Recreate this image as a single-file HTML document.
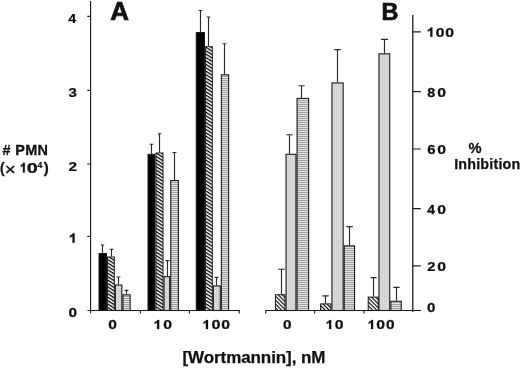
<!DOCTYPE html>
<html><head><meta charset="utf-8"><title>Figure</title>
<style>
html,body{margin:0;padding:0;background:#fff;}
body{width:520px;height:368px;overflow:hidden;font-family:"Liberation Sans",sans-serif;}
svg{display:block;will-change:transform;}
text{font-family:"Liberation Sans",sans-serif;font-weight:bold;fill:#111;stroke:#111;stroke-width:0.25px;}
</style></head><body>
<svg width="520" height="368" viewBox="0 0 520 368">
<defs>
<pattern id="hat" width="2.9" height="2.9" patternUnits="userSpaceOnUse" patternTransform="rotate(32)">
<rect width="2.9" height="2.9" fill="#fff"/><rect width="2.9" height="1.3" fill="#000"/>
</pattern>
<pattern id="hatB" width="2.8" height="2.8" patternUnits="userSpaceOnUse" patternTransform="rotate(45)">
<rect width="2.8" height="2.8" fill="#fff"/><rect width="2.8" height="1.15" fill="#000"/>
</pattern>
<pattern id="str" width="2" height="2" patternUnits="userSpaceOnUse">
<rect width="2" height="2" fill="#e2e2e2"/><rect width="2" height="1" fill="#a0a0a0"/>
</pattern>
<pattern id="dots" width="2" height="2" patternUnits="userSpaceOnUse">
<rect width="2" height="2" fill="#dadada"/><rect width="1" height="1" fill="#c8c8c8"/>
</pattern>
</defs>
<rect width="520" height="368" fill="#fff"/>

<g stroke="#1c1c1c" stroke-width="1.15" fill="none">
<path d="M90.6 1V313.2"/>
<path d="M87.5 310.5H239.7"/>
<path d="M87.3 16.3H90.6M87.3 90.4H90.6M87.3 164H90.6M87.3 236.4H90.6"/>
<path d="M140.4 310.5V313.5M189.4 310.5V313.5M239.2 310.5V313.5"/>
<path d="M265.5 310.5H421"/>
<path d="M265.7 310.5V313.5M314.7 310.5V313.5M363.9 310.5V313.5"/>
<path d="M412.8 15V312" stroke-width="1.3"/>
<path d="M413 31.8H420.8M413 91.6H420.8M413 149H420.8M413 208.6H420.8M413 265.8H420.8"/>
</g>

<path d="M102.50 253.00V245.00M100.75 245.00H104.25" stroke="#2a2a2a" stroke-width="1.15" fill="none"/><rect x="99.00" y="253.50" width="7.50" height="57.00" fill="#000" stroke="#1a1a1a" stroke-width="1.0"/>
<path d="M111.50 256.50V249.30M109.75 249.30H113.25" stroke="#2a2a2a" stroke-width="1.15" fill="none"/><rect x="107.45" y="256.95" width="6.90" height="53.55" fill="url(#hat)" stroke="#1a1a1a" stroke-width="0.9"/>
<path d="M118.50 284.50V277.00M116.60 277.00H120.40" stroke="#2a2a2a" stroke-width="1.15" fill="none"/><rect x="115.35" y="285.05" width="6.50" height="25.45" fill="url(#dots)" stroke="#1a1a1a" stroke-width="1.1"/>
<path d="M126.50 294.30V290.40M124.60 290.40H128.40" stroke="#2a2a2a" stroke-width="1.15" fill="none"/><rect x="122.95" y="294.85" width="7.20" height="15.65" fill="url(#str)" stroke="#1a1a1a" stroke-width="1.1"/>
<path d="M151.50 153.75V144.25M149.75 144.25H153.25" stroke="#2a2a2a" stroke-width="1.15" fill="none"/><rect x="148.00" y="154.25" width="7.00" height="156.25" fill="#000" stroke="#1a1a1a" stroke-width="1.0"/>
<path d="M159.50 152.50V133.75M157.75 133.75H161.25" stroke="#2a2a2a" stroke-width="1.15" fill="none"/><rect x="155.95" y="152.95" width="7.10" height="157.55" fill="url(#hat)" stroke="#1a1a1a" stroke-width="0.9"/>
<path d="M167.50 276.10V260.60M165.60 260.60H169.40" stroke="#2a2a2a" stroke-width="1.15" fill="none"/><rect x="164.05" y="276.65" width="5.60" height="33.85" fill="url(#dots)" stroke="#1a1a1a" stroke-width="1.1"/>
<path d="M174.50 180.00V152.50M172.60 152.50H176.40" stroke="#2a2a2a" stroke-width="1.15" fill="none"/><rect x="170.75" y="180.55" width="7.60" height="129.95" fill="url(#str)" stroke="#1a1a1a" stroke-width="1.1"/>
<path d="M200.50 32.00V10.50M198.75 10.50H202.25" stroke="#2a2a2a" stroke-width="1.15" fill="none"/><rect x="196.25" y="32.50" width="8.25" height="278.00" fill="#000" stroke="#1a1a1a" stroke-width="1.0"/>
<path d="M208.50 46.25V17.00M206.75 17.00H210.25" stroke="#2a2a2a" stroke-width="1.15" fill="none"/><rect x="205.45" y="46.70" width="6.90" height="263.80" fill="url(#hat)" stroke="#1a1a1a" stroke-width="0.9"/>
<path d="M216.50 285.40V277.30M214.60 277.30H218.40" stroke="#2a2a2a" stroke-width="1.15" fill="none"/><rect x="213.35" y="285.95" width="6.90" height="24.55" fill="url(#dots)" stroke="#1a1a1a" stroke-width="1.1"/>
<path d="M224.50 74.25V43.75M222.60 43.75H226.40" stroke="#2a2a2a" stroke-width="1.15" fill="none"/><rect x="221.35" y="74.80" width="7.30" height="235.70" fill="url(#str)" stroke="#1a1a1a" stroke-width="1.1"/>
<path d="M281.50 294.20V269.20M278.25 269.20H284.75" stroke="#2a2a2a" stroke-width="1.15" fill="none"/><rect x="275.40" y="294.70" width="9.60" height="15.80" fill="url(#hatB)" stroke="#1a1a1a" stroke-width="1.0"/>
<path d="M289.50 153.75V134.70M286.35 134.70H292.65" stroke="#2a2a2a" stroke-width="1.15" fill="none"/><rect x="286.05" y="154.30" width="9.90" height="156.20" fill="url(#dots)" stroke="#1a1a1a" stroke-width="1.1"/>
<path d="M301.50 97.90V85.70M298.40 85.70H304.60" stroke="#2a2a2a" stroke-width="1.15" fill="none"/><rect x="297.05" y="98.45" width="11.60" height="212.05" fill="url(#str)" stroke="#1a1a1a" stroke-width="1.1"/>
<path d="M325.50 303.40V295.80M322.35 295.80H328.65" stroke="#2a2a2a" stroke-width="1.15" fill="none"/><rect x="320.60" y="303.90" width="10.30" height="6.60" fill="url(#hatB)" stroke="#1a1a1a" stroke-width="1.0"/>
<path d="M337.50 82.40V49.60M334.35 49.60H340.65" stroke="#2a2a2a" stroke-width="1.15" fill="none"/><rect x="331.95" y="82.95" width="11.20" height="227.55" fill="url(#dots)" stroke="#1a1a1a" stroke-width="1.1"/>
<path d="M349.50 245.30V226.60M346.25 226.60H352.75" stroke="#2a2a2a" stroke-width="1.15" fill="none"/><rect x="344.25" y="245.85" width="10.30" height="64.65" fill="url(#str)" stroke="#1a1a1a" stroke-width="1.1"/>
<path d="M373.50 296.60V277.60M370.40 277.60H376.60" stroke="#2a2a2a" stroke-width="1.15" fill="none"/><rect x="368.20" y="297.10" width="10.10" height="13.40" fill="url(#hatB)" stroke="#1a1a1a" stroke-width="1.0"/>
<path d="M384.50 53.30V39.30M381.00 39.30H388.00" stroke="#2a2a2a" stroke-width="1.15" fill="none"/><rect x="378.95" y="53.85" width="10.80" height="256.65" fill="url(#dots)" stroke="#1a1a1a" stroke-width="1.1"/>
<path d="M396.50 300.70V287.40M393.35 287.40H399.65" stroke="#2a2a2a" stroke-width="1.15" fill="none"/><rect x="390.85" y="301.25" width="10.40" height="9.25" fill="url(#str)" stroke="#1a1a1a" stroke-width="1.1"/>
<text transform="translate(110.32,20.45) scale(1.042,1)" font-size="24.85" letter-spacing="0.00" style="stroke-width:0.7px">A</text>
<text transform="translate(381.46,20.10) scale(0.986,1)" font-size="23.77" letter-spacing="0.00" style="stroke-width:0.7px">B</text>
<text transform="translate(68.21,22.70) scale(1.087,1)" font-size="13.19" letter-spacing="0.00" >4</text>
<text transform="translate(68.60,96.67) scale(1.121,1)" font-size="13.38" letter-spacing="0.00" >3</text>
<text transform="translate(68.44,170.50) scale(1.152,1)" font-size="13.29" letter-spacing="0.00" >2</text>
<path d="M74.60 233.30L74.60 242.80L72.50 242.80L72.50 236.15Q71.28 237.10 69.80 237.48L69.80 235.68Q71.96 235.01 73.02 233.30Z" fill="#111" stroke="#111" stroke-width="0.2"/>
<text transform="translate(68.59,317.27) scale(1.157,1)" font-size="13.24" letter-spacing="0.00" >0</text>
<text transform="translate(108.28,328.87) scale(1.199,1)" font-size="12.96" letter-spacing="0.00" >0</text>
<path d="M159.20 319.90L159.20 328.90L157.10 328.90L157.10 322.60Q155.97 323.50 154.60 323.86L154.60 322.15Q156.60 321.52 157.62 319.90Z" fill="#111" stroke="#111" stroke-width="0.2"/>
<text transform="translate(163.17,328.87) scale(1.215,1)" font-size="12.96" letter-spacing="0.00" >0</text>
<path d="M208.00 319.90L208.00 328.90L205.90 328.90L205.90 322.60Q204.78 323.50 203.40 323.86L203.40 322.15Q205.40 321.52 206.43 319.90Z" fill="#111" stroke="#111" stroke-width="0.2"/>
<text transform="translate(211.55,328.87) scale(1.248,1)" font-size="12.96" letter-spacing="0.00" >0</text>
<text transform="translate(221.37,328.87) scale(1.215,1)" font-size="12.96" letter-spacing="0.00" >0</text>
<text transform="translate(283.09,328.87) scale(1.182,1)" font-size="12.96" letter-spacing="0.00" >0</text>
<path d="M331.20 319.90L331.20 328.90L329.10 328.90L329.10 322.60Q327.98 323.50 326.60 323.86L326.60 322.15Q328.60 321.52 329.62 319.90Z" fill="#111" stroke="#111" stroke-width="0.2"/>
<text transform="translate(334.77,328.87) scale(1.215,1)" font-size="12.96" letter-spacing="0.00" >0</text>
<path d="M373.10 319.90L373.10 328.90L371.00 328.90L371.00 322.60Q369.92 323.50 368.60 323.86L368.60 322.15Q370.52 321.52 371.53 319.90Z" fill="#111" stroke="#111" stroke-width="0.2"/>
<text transform="translate(376.27,328.87) scale(1.215,1)" font-size="12.96" letter-spacing="0.00" >0</text>
<text transform="translate(385.88,328.87) scale(1.199,1)" font-size="12.96" letter-spacing="0.00" >0</text>
<path d="M432.40 27.50L432.40 36.70L430.30 36.70L430.30 30.26Q429.18 31.18 427.80 31.55L427.80 29.80Q429.80 29.16 430.82 27.50Z" fill="#111" stroke="#111" stroke-width="0.2"/>
<text transform="translate(435.87,36.67) scale(1.189,1)" font-size="13.24" letter-spacing="0.00" >0</text>
<text transform="translate(445.37,36.67) scale(1.189,1)" font-size="13.24" letter-spacing="0.00" >0</text>
<text transform="translate(427.37,97.17) scale(1.099,1)" font-size="13.10" letter-spacing="0.00" >8</text>
<text transform="translate(437.37,97.17) scale(1.202,1)" font-size="13.10" letter-spacing="0.00" >0</text>
<text transform="translate(427.20,154.47) scale(1.145,1)" font-size="13.10" letter-spacing="0.00" >6</text>
<text transform="translate(437.37,154.47) scale(1.202,1)" font-size="13.10" letter-spacing="0.00" >0</text>
<text transform="translate(427.32,213.70) scale(1.036,1)" font-size="13.48" letter-spacing="0.00" >4</text>
<text transform="translate(437.37,213.57) scale(1.202,1)" font-size="13.10" letter-spacing="0.00" >0</text>
<text transform="translate(427.36,271.10) scale(1.106,1)" font-size="13.29" letter-spacing="0.00" >2</text>
<text transform="translate(437.37,270.97) scale(1.202,1)" font-size="13.10" letter-spacing="0.00" >0</text>
<text transform="translate(426.90,312.07) scale(1.153,1)" font-size="13.10" letter-spacing="0.00" >0</text>
<text transform="translate(468.56,152.55) scale(0.989,1)" font-size="14.86" letter-spacing="0.00" >%</text>
<text transform="translate(454.20,169.46) scale(1.000,1)" font-size="14.32" letter-spacing="0.18" >Inhibition</text>
<text transform="translate(2.51,155.00) scale(1.050,1)" font-size="13.77" letter-spacing="0.30" ># PMN</text>
<text transform="translate(182.48,362.73) scale(1.000,1)" font-size="17.02" letter-spacing="-0.09" >[Wortmannin], nM</text>
<text transform="translate(0.12,172.81) scale(0.952,1)" font-size="14.26" letter-spacing="0.00" >(</text>
<text transform="translate(43.80,172.81) scale(1.052,1)" font-size="14.26" letter-spacing="0.00" >)</text>
<text transform="translate(4.86,174.51) scale(1.195,1)" font-size="15.71" letter-spacing="0.00" style="font-weight:normal;stroke-width:0.35px">×</text>
<path d="M24.80 162.80L24.80 172.60L22.92 172.60L22.92 165.74Q21.97 166.72 20.80 167.11L20.80 165.25Q22.50 164.56 23.39 162.80Z" fill="#111" stroke="#111" stroke-width="0.2"/>
<text transform="translate(26.81,172.66) scale(1.391,1)" font-size="14.23" letter-spacing="0.00" >0</text>
<text transform="translate(37.53,168.20) scale(1.033,1)" font-size="8.41" letter-spacing="0.00" >4</text>
</svg>
</body></html>
